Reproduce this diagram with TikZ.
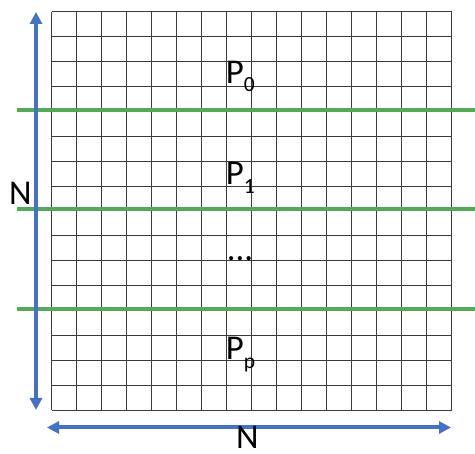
\documentclass[tikz,border=0pt]{standalone}
\usepackage{fontspec}
\setmainfont{Carlito}
\definecolor{ArrowBlue}{RGB}{68,114,196}
\definecolor{CutGreen}{RGB}{84,170,86}
\definecolor{GridGray}{RGB}{60,60,60}
\usepackage{tikz}
\usetikzlibrary{arrows.meta, positioning}
\newcommand{\psub}[1]{\raisebox{-8.4pt}{\fontsize{21.6}{24}\selectfont #1}}

\begin{document}
\begin{tikzpicture}[x=1pt, y=-1pt,
    gridline/.style={GridGray, line width=0.9pt},
    cutline/.style={CutGreen, line width=3.6pt},
    sizearrow/.style={ArrowBlue, line width=4pt, {Triangle[length=12pt,width=12pt]}-{Triangle[length=12pt,width=12pt]}},
    lbl/.style={inner sep=0pt, anchor=base west, font=\fontsize{34.8}{40}\selectfont}]
          \useasboundingbox (0,0) rectangle (475,454);
          % the N x N grid
          \foreach \i in {0,...,16}
            \draw[gridline] ({51.5+25*\i},11.7) -- ({51.5+25*\i},410);
          \foreach \j in {0,...,16}
            \draw[gridline] (51.5,{11.7+24.9*\j}) -- (451.5,{11.7+24.9*\j});
          % partition boundaries
          \foreach \y in {110,209,309}
            \draw[cutline] (17,\y) -- (475,\y);
          % size arrows
          \coordinate (vtop) at (36,12);
          \coordinate (vbot) at (36,410);
          \coordinate (hleft) at (47,427.5);
          \coordinate (hright) at (451,427.5);
          \draw[sizearrow] (vbot) -- (vtop);
          \draw[sizearrow] (hleft) -- (hright);
          % labels
          \node[lbl] (nrows) at (9,205) {N};
          \node[lbl] (ncols) at (236,449) {N};
          \node[lbl] (p0) at (225.6,83.3) {P\psub{0}};
          \node[lbl] (p1) at (225.6,185) {P\psub{1}};
          \node[lbl] (dots) at (226.6,261) {...};
          \node[lbl] (pp) at (225.6,360) {P\psub{p}};
        \end{tikzpicture}
\end{document}
